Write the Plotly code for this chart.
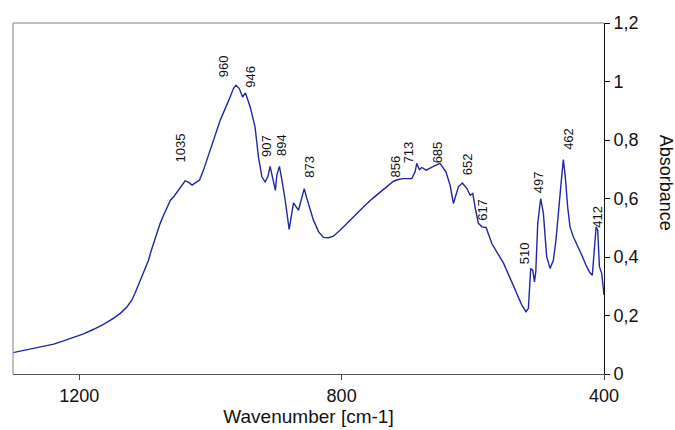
import plotly.graph_objects as go

wavenumber = [1301, 1285, 1270, 1254, 1239, 1224, 1209, 1193.4, 1178, 1163, 1148, 1136.5, 1127, 1119.7,
              1115, 1109.6, 1104.5, 1099.4, 1094.4, 1090.8, 1086.8, 1081.6, 1076.6, 1071.5, 1066.4, 1061,
              1056, 1047, 1038.5, 1033, 1028, 1022, 1016.6, 1010.6, 1005.5, 995, 985, 970, 965, 961,
              956, 951, 946.6, 939.4, 932, 926.8, 921.6, 916.6, 912.5, 909, 906, 901, 898.8, 894.8,
              891, 886, 880, 873.4, 865.8, 862, 857, 853, 848, 843, 835, 827.7, 820, 812.5, 802, 792,
              779, 766.8, 754, 741, 731, 721, 713.5, 705.8, 693, 688, 685.5, 681.4, 677.8, 671, 660,
              650, 641, 634.7, 629.6, 622, 616, 609, 604, 600, 596.6, 591.5, 586, 579.8, 571, 562.5,
              553, 543, 533, 525.4, 519, 515.3, 511.7, 508.6, 506, 504, 501, 496.5, 492.4, 487.4,
              482.3, 477.2, 473.2, 469.6, 465.5, 462, 459, 455.4, 451.8, 446.8, 441.6, 434, 426.4,
              421.3, 417.8, 415.2, 412, 409.6, 407, 403.5, 400]
absorbance = [0.073, 0.080, 0.088, 0.095, 0.102, 0.113, 0.124, 0.137, 0.153, 0.170, 0.190, 0.209, 0.230, 0.253,
              0.276, 0.304, 0.332, 0.361, 0.389, 0.418, 0.446, 0.481, 0.515, 0.543, 0.571, 0.594,
              0.606, 0.634, 0.660, 0.655, 0.646, 0.655, 0.663, 0.697, 0.731, 0.799, 0.868, 0.947, 0.976, 0.987,
              0.976, 0.947, 0.961, 0.913, 0.845, 0.742, 0.674, 0.657, 0.674, 0.710, 0.680, 0.628, 0.680, 0.710,
              0.663, 0.594, 0.494, 0.585, 0.560, 0.594, 0.634, 0.600, 0.560, 0.526, 0.486, 0.467, 0.466, 0.471,
              0.492, 0.515, 0.543, 0.571, 0.598, 0.623, 0.642, 0.659, 0.665, 0.668, 0.668, 0.691, 0.720, 0.699,
              0.706, 0.697, 0.710, 0.720, 0.691, 0.646, 0.583, 0.640, 0.653, 0.634, 0.611, 0.617, 0.571, 0.515,
              0.503, 0.501, 0.446, 0.412, 0.378, 0.327, 0.276, 0.236, 0.213, 0.224, 0.361, 0.355, 0.315, 0.350,
              0.515, 0.600, 0.549, 0.401, 0.361, 0.389, 0.458, 0.537, 0.651, 0.733, 0.674, 0.571, 0.503, 0.469,
              0.446, 0.407, 0.367, 0.346, 0.338, 0.401, 0.503, 0.492, 0.367, 0.344, 0.270]

# Peak labels and where they are drawn (data coordinates)
peak_labels = ["1035", "960", "946", "907", "894", "873", "856", "713", "685", "652", "617", "510", "497", "462", "412"]
label_x = [1046, 981, 938.4, 915.5, 892.7, 849, 718.5, 696.7, 652.5, 607.7, 585, 520, 498.6, 454.4, 409.6]
label_y = [0.772, 1.052, 1.016, 0.779, 0.782, 0.710, 0.710, 0.759, 0.759, 0.716, 0.560, 0.414, 0.657, 0.805, 0.537]

x_ticks = [1200, 800, 400]
y_ticks = [0, 0.2, 0.4, 0.6, 0.8, 1.0, 1.2]
y_ticktext = ["0", "0,2", "0,4", "0,6", "0,8", "1", "1,2"]

FONT = "Liberation Sans, Arial, sans-serif"

fig = go.Figure()
fig.add_trace(go.Scatter(x=wavenumber, y=absorbance, mode="lines",
                         line=dict(color="#1f27a0", width=1.4), hoverinfo="skip"))

for t, xv, yv in zip(peak_labels, label_x, label_y):
    fig.add_annotation(x=xv, y=yv, text=t, showarrow=False, textangle=-90,
                       xanchor="center", yanchor="middle",
                       font=dict(family=FONT, size=13, color="#111111"))

# Right-side axis title
fig.add_annotation(xref="paper", yref="paper", x=1.105, y=0.545, text="Absorbance",
                   showarrow=False, textangle=90, xanchor="center", yanchor="middle",
                   font=dict(family=FONT, size=18, color="#111111"))

# Gray frame on top and left
fig.add_shape(type="line", xref="paper", yref="paper", x0=0, x1=1, y0=1, y1=1,
              line=dict(color="#aaaaaa", width=1.5))
fig.add_shape(type="line", xref="paper", yref="paper", x0=0, x1=0, y0=0, y1=1,
              line=dict(color="#aaaaaa", width=1.5))

fig.update_layout(
    width=675, height=430,
    margin=dict(l=13, r=71, t=23, b=56),
    paper_bgcolor="white", plot_bgcolor="white",
    showlegend=False,
    font=dict(family=FONT, color="#111111"),
    xaxis=dict(range=[1301, 400], tickvals=x_ticks, ticks="outside", ticklen=5,
               tickcolor="#444444", showline=True, linecolor="#555555", linewidth=1,
               showgrid=False, zeroline=False, tickfont=dict(size=18), automargin=False,
               title=dict(text="Wavenumber [cm-1]", font=dict(size=19), standoff=4)),
    yaxis=dict(range=[0, 1.2], side="right", tickvals=y_ticks, ticktext=y_ticktext,
               ticks="outside", ticklen=5, tickcolor="#111111", showline=True,
               linecolor="#111111", linewidth=1, showgrid=False, zeroline=False,
               tickfont=dict(size=18), automargin=False),
)

fig.write_html("out.html")
